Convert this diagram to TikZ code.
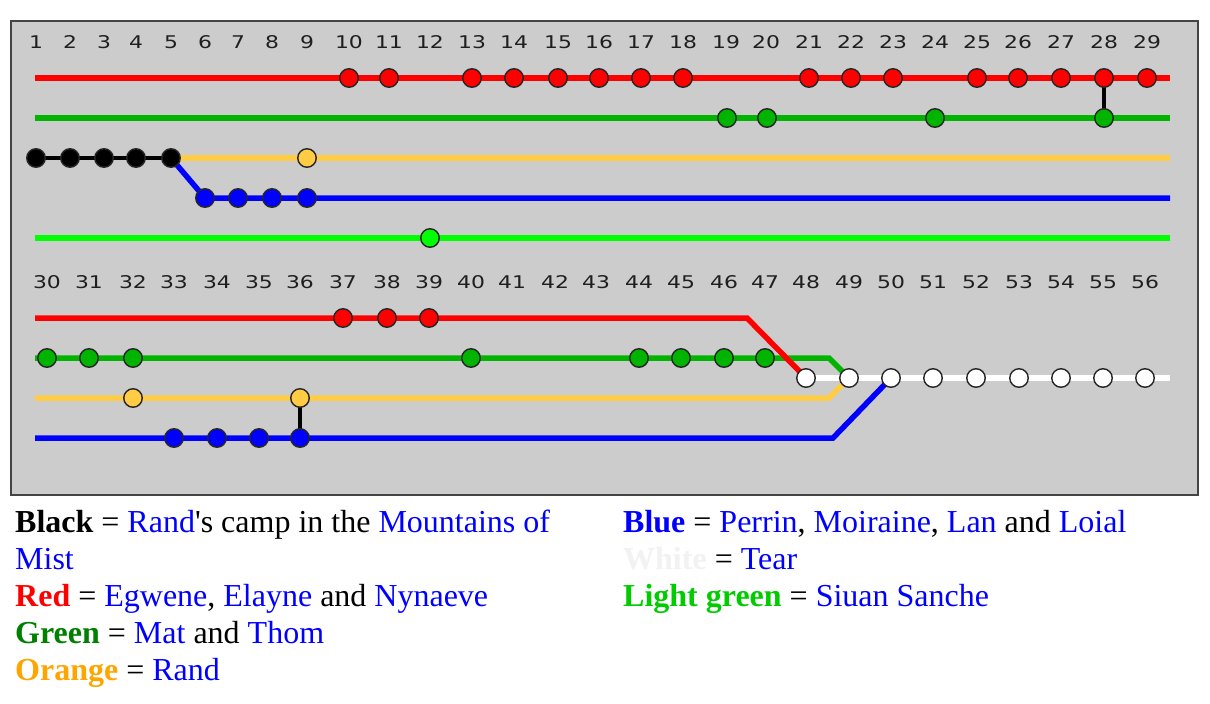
\documentclass[tikz,border=0pt]{standalone}
\usepackage{fontspec}
\setmainfont{Liberation Serif}
\newfontfamily\qfont{Liberation Serif}[Ligatures=TeXOff]
\newfontfamily\numfont[FakeStretch=1.25]{DejaVu Sans}
\definecolor{bgc}{HTML}{CCCCCC}
\definecolor{frame}{HTML}{444444}
\definecolor{cred}{HTML}{FF0000}
\definecolor{cgreen}{HTML}{00B400}
\definecolor{clgreen}{HTML}{00FF00}
\definecolor{corange}{HTML}{FFCC44}
\definecolor{cblue}{HTML}{0000FF}
\definecolor{tgreen}{HTML}{008000}
\definecolor{tlgreen}{HTML}{00CC00}
\definecolor{torange}{HTML}{FFA500}
\definecolor{tblue}{HTML}{0000FF}
\definecolor{twhite}{HTML}{F2F2F2}
\tikzset{
  lbl/.style={font=\numfont\fontsize{17.5}{18}\selectfont, text=black!88, inner sep=0pt, anchor=base},
  stn/.style={circle, draw=black!85, line width=1.4pt, minimum size=18.5pt, inner sep=0pt, fill=#1},
  ln/.style={line width=5.5pt, draw=#1, line join=miter},
  link/.style={line width=4pt, draw=black},
  leg/.style={anchor=base west, inner sep=0pt, font=\fontsize{32}{37}\selectfont},
}
\newcommand{\bb}[2]{\textcolor{#1}{\textbf{#2}}}
\newcommand{\nb}[1]{\textcolor{tblue}{#1}}
\begin{document}
\begin{tikzpicture}[x=1pt,y=-1pt]
\useasboundingbox (0,0) rectangle (1210,704);
\fill[white] (0,0) rectangle (1210,704);
\node[draw=frame, line width=2pt, fill=bgc, minimum width=1187pt, minimum height=474pt, anchor=north west, inner sep=0pt] (panel) at (10,20) {};

% ---------- panel labels ----------
\foreach \n/\x in {1/36,2/70,3/104,4/136,5/171,6/205,7/238,8/272,9/307,10/349,11/389,12/430,13/472,14/514,15/558,16/599,17/641,18/683,19/726,20/766,21/809,22/851,23/893,24/935,25/977,26/1018,27/1061,28/1104,29/1147}
  \node[lbl] (t\n) at (\x,48) {\n};
\foreach \n/\x in {30/47,31/89,32/133,33/174,34/217,35/259,36/300,37/343,38/387,39/429,40/471,41/512,42/555,43/596,44/639,45/681,46/724,47/765,48/806,49/849,50/891,51/933,52/976,53/1019,54/1061,55/1103,56/1145}
  \node[lbl] (t\n) at (\x,288) {\n};

% ---------- line end coordinates ----------
\coordinate (rS) at (35,78);  \coordinate (rE) at (1170,78);
\coordinate (gS) at (35,118); \coordinate (gE) at (1170,118);
\coordinate (oE) at (1170,158);
\coordinate (bE) at (1170,198);
\coordinate (lS) at (35,238); \coordinate (lE) at (1170,238);
\coordinate (RS) at (35,318); \coordinate (Rk) at (747,318);
\coordinate (GS) at (35,358); \coordinate (Gk) at (829,358);
\coordinate (OS) at (35,398); \coordinate (Ok) at (829,398);
\coordinate (BS) at (35,438); \coordinate (Bk) at (833,438);
\coordinate (WE) at (1170,378);

% ---------- station positions (named coordinates) ----------
\foreach \n/\x in {10/349,11/389,13/472,14/514,15/558,16/599,17/641,18/683,21/809,22/851,23/893,25/977,26/1018,27/1061,28/1104,29/1147}
  \coordinate (r\n) at (\x,78);
\foreach \n/\x in {19/727,20/767,24/935,28/1104}
  \coordinate (g\n) at (\x,118);
\foreach \n/\x in {1/36,2/70,3/104,4/136,5/171}
  \coordinate (k\n) at (\x,158);
\coordinate (o9) at (307,158);
\foreach \n/\x in {6/205,7/238,8/272,9/307}
  \coordinate (b\n) at (\x,198);
\coordinate (l12) at (430,238);
\foreach \n/\x in {48/806,49/849,50/891,51/933,52/976,53/1019,54/1061,55/1103,56/1145}
  \coordinate (w\n) at (\x,378);
\foreach \n/\x in {37/343,38/387,39/429}
  \coordinate (R\n) at (\x,318);
\foreach \n/\x in {30/47,31/89,32/133,40/471,44/639,45/681,46/724,47/765}
  \coordinate (G\n) at (\x,358);
\foreach \n/\x in {32/133,36/300}
  \coordinate (O\n) at (\x,398);
\foreach \n/\x in {33/174,34/217,35/259,36/300}
  \coordinate (B\n) at (\x,438);

% ---------- lines ----------
\draw[ln=cred] (rS) -- (rE);
\draw[ln=cgreen] (gS) -- (gE);
\draw[link] (r28) -- (g28);
\draw[ln=corange] (k5) -- (oE);
\draw[ln=cblue] (k5) -- (b6) -- (bE);
\draw[line width=4.5pt, draw=black] (k1) -- (k5);
\draw[ln=clgreen] (lS) -- (lE);

\draw[ln=cgreen] (GS) -- (Gk) -- (w49);
\draw[ln=corange] (OS) -- (Ok) -- (w49);
\draw[ln=cblue] (BS) -- (Bk) -- (w50);
\draw[ln=cred] (RS) -- (Rk) -- (w48);
\draw[ln=white] (w48) -- (WE);
\draw[link] (O36) -- (B36);

% ---------- stations ----------
\foreach \n in {10,11,13,14,15,16,17,18,21,22,23,25,26,27,28,29}
  \node[stn=cred] (sr\n) at (r\n) {};
\foreach \n in {19,20,24,28}
  \node[stn=cgreen] (sg\n) at (g\n) {};
\foreach \n in {1,2,3,4,5}
  \node[stn=black] (sk\n) at (k\n) {};
\node[stn=corange] (so9) at (o9) {};
\foreach \n in {6,7,8,9}
  \node[stn=cblue] (sb\n) at (b\n) {};
\node[stn=clgreen] (sl12) at (l12) {};
\foreach \n in {48,49,50,51,52,53,54,55,56}
  \node[stn=white] (sw\n) at (w\n) {};
\foreach \n in {37,38,39}
  \node[stn=cred] (sR\n) at (R\n) {};
\foreach \n in {30,31,32,40,44,45,46,47}
  \node[stn=cgreen] (sG\n) at (G\n) {};
\foreach \n in {32,36}
  \node[stn=corange] (sO\n) at (O\n) {};
\foreach \n in {33,34,35,36}
  \node[stn=cblue] (sB\n) at (B\n) {};

% ---------- legend ----------
\node[leg] (l1) at (15,532) {\bb{black}{Black} = \nb{Rand}{\qfont'}s camp in the \nb{Mountains of}};
\node[leg] (l2) at (15,569) {\nb{Mist}};
\node[leg] (l3) at (15,606) {\bb{cred}{Red} = \nb{Egwene}, \nb{Elayne} and \nb{Nynaeve}};
\node[leg] (l4) at (15,643) {\bb{tgreen}{Green} = \nb{Mat} and \nb{Thom}};
\node[leg] (l5) at (15,680) {\bb{torange}{Orange} = \nb{Rand}};
\node[leg] (r1) at (623,532) {\bb{tblue}{Blue} = \nb{Perrin}, \nb{Moiraine}, \nb{Lan} and \nb{Loial}};
\node[leg] (r2) at (623,569) {\bb{twhite}{White} = \nb{Tear}};
\node[leg] (r3) at (623,606) {\bb{tlgreen}{Light green} = \nb{Siuan Sanche}};
\end{tikzpicture}
\end{document}
